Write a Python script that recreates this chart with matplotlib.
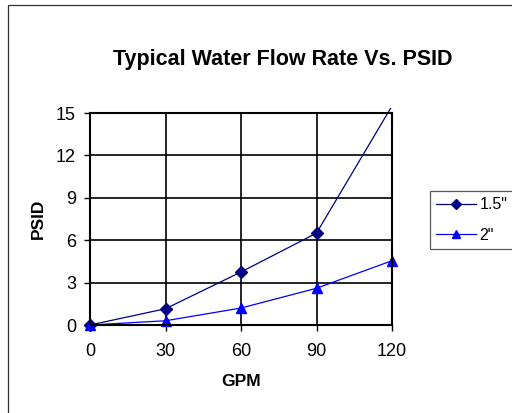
import matplotlib
matplotlib.use("Agg")
import matplotlib.pyplot as plt
from matplotlib.patches import Rectangle
from matplotlib.transforms import Bbox, TransformedBbox

plt.rcParams['font.family'] = ['Liberation Sans', 'DejaVu Sans']

gpm = [0, 30, 60, 90, 120]
psid_15 = [0, 1.15, 3.75, 6.5, 15.5]
psid_2 = [0, 0.3, 1.2, 2.6, 4.55]
series_names = ['1.5"', '2"']
title = "Typical Water Flow Rate Vs. PSID"
xticks = [0, 30, 60, 90, 120]
yticks = [0, 3, 6, 9, 12, 15]

W, H = 512, 413
YMAX = 15
fig = plt.figure(figsize=(W / 100, H / 100), dpi=100)
fig.patch.set_facecolor('white')

# outer chart border
fig.patches.append(Rectangle((8 / W, -0.1), 1.2, 1 - 5 / H + 0.1, transform=fig.transFigure,
                             fill=False, edgecolor='#303030', linewidth=0.9))

ax = fig.add_axes([90 / W, 1 - 325 / H, (392 - 90) / W, (325 - 113) / H])


def inrange(vals):
    return [i for i, v in enumerate(vals) if v <= YMAX]


l1, = ax.plot(gpm, psid_15, color='#000080', marker='D', markersize=6, linewidth=0.9,
              label=series_names[0], markevery=inrange(psid_15))
l2, = ax.plot(gpm, psid_2, color='#0000FF', marker='^', markersize=7.5, linewidth=0.9,
              label=series_names[1], markevery=inrange(psid_2))
ax.set_xlim(0, 120)
ax.set_ylim(0, YMAX)
clip = TransformedBbox(Bbox([[-0.1, -0.1], [1.1, 1.025]]), ax.transAxes)
for ln in (l1, l2):
    ln.set_clip_box(clip)

ax.set_xticks(xticks)
ax.set_yticks(yticks)
ax.grid(True, color='black', linewidth=1.2)
ax.set_axisbelow(True)
for s in ax.spines.values():
    s.set_linewidth(1.5)
    s.set_color('black')
ax.tick_params(axis='both', direction='out', length=4, width=1, labelsize=13, pad=6)
ax.tick_params(axis='x', pad=9)

ax.set_xlabel("GPM", fontsize=12.5, fontweight='bold', labelpad=10)
ax.set_ylabel("PSID", fontsize=12.5, fontweight='bold', labelpad=7.5)
fig.text(283 / W, 1 - 60 / H, title, fontsize=15.5, fontweight='bold', ha='center', va='center')

leg = fig.legend(handles=[l1, l2], loc='upper left', bbox_to_anchor=(430 / W, 1 - 191 / H),
                 fontsize=11.5, frameon=True, fancybox=False, edgecolor='#303030',
                 handlelength=2.45, handletextpad=0.25, borderpad=0.4, labelspacing=0.95,
                 borderaxespad=0, markerscale=0.85)
leg.get_frame().set_linewidth(0.9)

fig.savefig("out.png", dpi=100, facecolor='white')
